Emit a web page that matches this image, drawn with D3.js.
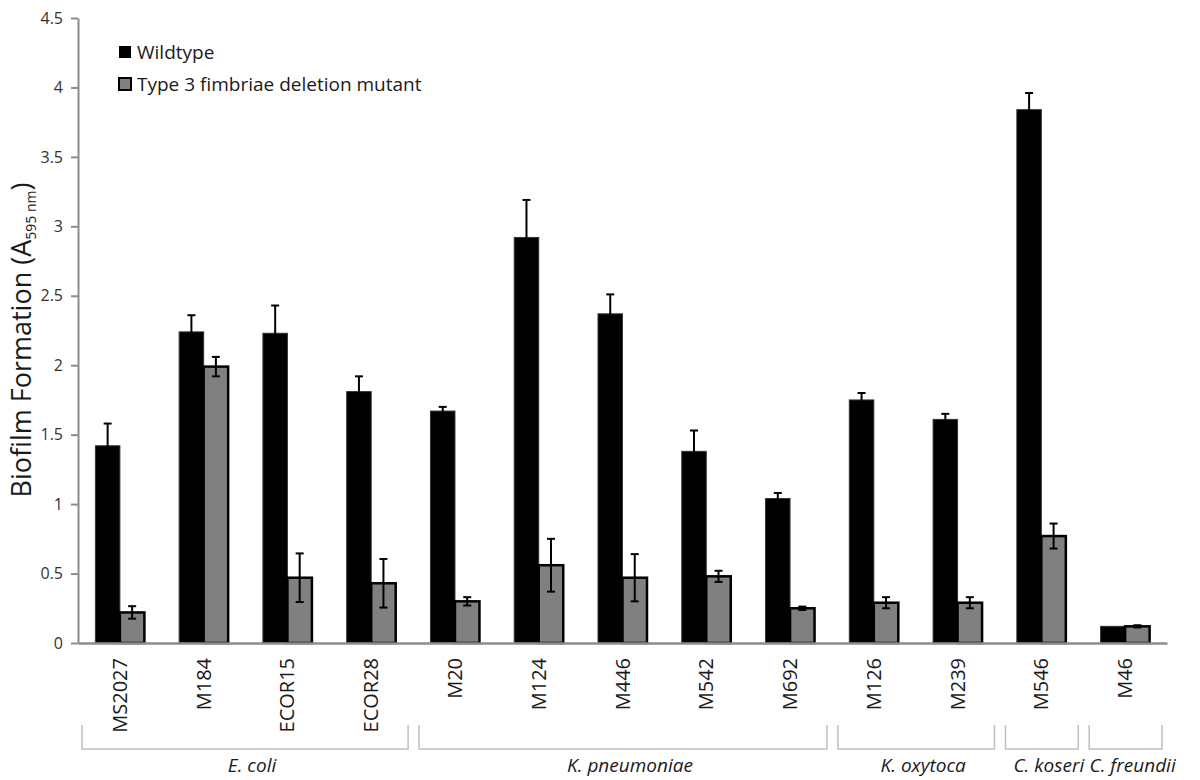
<!DOCTYPE html>
<html>
<head>
<meta charset="utf-8">
<script src="https://cdn.jsdelivr.net/npm/d3@7"></script>
<style>
  body { margin: 0; background: #fff; }
  svg { font-family: "Open Sans", sans-serif; }
</style>
</head>
<body>
<svg id="chart"></svg>
<script>
// strains on the x axis
var strains = ["MS2027", "M184", "ECOR15", "ECOR28", "M20", "M124", "M446", "M542", "M692", "M126", "M239", "M546", "M46"];

// biofilm values (A595 nm)
var wildtype    = [1.42, 2.24, 2.23, 1.81, 1.67, 2.92, 2.37, 1.38, 1.04, 1.75, 1.61, 3.84, 0.12];
var wildtypeErr = [0.16, 0.12, 0.20, 0.11, 0.03, 0.27, 0.14, 0.15, 0.04, 0.05, 0.04, 0.12, 0.0];
var mutant      = [0.22, 1.99, 0.47, 0.43, 0.30, 0.56, 0.47, 0.48, 0.25, 0.29, 0.29, 0.77, 0.12];
var mutantErr   = [0.045, 0.07, 0.175, 0.175, 0.03, 0.19, 0.17, 0.04, 0.012, 0.04, 0.04, 0.09, 0.008];

var seriesNames = ["Wildtype", "Type 3 fimbriae deletion mutant"];

// species groups under the strain labels
var groupNames = ["E. coli", "K. pneumoniae", "K. oxytoca", "C. koseri", "C. freundii"];
var groupFirst = ["MS2027", "M20", "M126", "M546", "M46"];
var groupLast  = ["ECOR28", "M692", "M239", "M546", "M46"];

var yTicks = [0, 0.5, 1, 1.5, 2, 2.5, 3, 3.5, 4, 4.5];

var screen = {width: 1200, height: 780};
var plot = {left: 78, right: 1167, top: 18, bottom: 643};

var svg = d3.select("#chart")
    .attr("width", screen.width)
    .attr("height", screen.height);

var xScale = d3.scaleBand()
    .domain(strains)
    .range([plot.left, plot.right])
    .padding(0);

var xSeries = d3.scaleBand()
    .domain(seriesNames)
    .range([xScale.bandwidth() / 2 - 24.5, xScale.bandwidth() / 2 + 24.5])
    .padding(0);

var yScale = d3.scaleLinear()
    .domain([0, 4.5])
    .range([plot.bottom, plot.top]);

// y axis
var yAxis = d3.axisLeft(yScale)
    .tickValues(yTicks)
    .tickFormat(function(d){ return String(d); })
    .tickSize(7)
    .tickSizeOuter(0);

var gy = svg.append("g")
    .attr("transform", "translate(" + plot.left + ",0)")
    .call(yAxis);
gy.select(".domain").attr("stroke", "#8c8c8c").attr("stroke-width", 2);
gy.selectAll(".tick line").attr("stroke", "#8c8c8c").attr("stroke-width", 2);
gy.selectAll(".tick text")
    .attr("x", -15)
    .attr("fill", "#333")
    .style("font-size", "16px")
    .style("font-family", "'Open Sans', sans-serif");

// y title
var yTitle = svg.append("text")
    .attr("transform", "translate(31,340) rotate(-90)")
    .attr("text-anchor", "middle")
    .attr("fill", "#1a1a1a")
    .style("font-size", "27px");
yTitle.append("tspan").text("Biofilm Formation (A");
yTitle.append("tspan").attr("dy", 5).style("font-size", "14px").text("595 nm");
yTitle.append("tspan").attr("dy", -5).text(")");

// bars
var rows = strains.map(function(s, i)
{
    return [
        {strain: s, series: seriesNames[0], value: wildtype[i], err: wildtypeErr[i]},
        {strain: s, series: seriesNames[1], value: mutant[i], err: mutantErr[i]}
    ];
});

var groups = svg.append("g").selectAll("g")
    .data(rows)
    .enter()
    .append("g")
    .attr("transform", function(d){ return "translate(" + xScale(d[0].strain) + ",0)"; });

groups.selectAll("rect")
    .data(function(d){ return d; })
    .enter()
    .append("rect")
    .attr("x", function(d){ return xSeries(d.series); })
    .attr("y", function(d){ return yScale(d.value); })
    .attr("width", xSeries.bandwidth())
    .attr("height", function(d){ return yScale(0) - yScale(d.value); })
    .attr("fill", function(d){ return d.series == seriesNames[0] ? "#000" : "#808080"; })
    .attr("stroke", function(d){ return d.series == seriesNames[0] ? "#333" : "#000"; })
    .attr("stroke-width", function(d){ return d.series == seriesNames[0] ? 1 : 2.5; });

// error bars
var errs = groups.selectAll("g.err")
    .data(function(d){ return d.filter(function(r){ return r.err > 0; }); })
    .enter()
    .append("g")
    .attr("class", "err")
    .attr("stroke", "#000")
    .attr("stroke-width", 2);

var errX = function(d){ return xSeries(d.series) + xSeries.bandwidth() / 2; };

errs.append("line")
    .attr("x1", errX).attr("x2", errX)
    .attr("y1", function(d){ return yScale(d.value - d.err); })
    .attr("y2", function(d){ return yScale(d.value + d.err); });
errs.append("line")
    .attr("x1", function(d){ return errX(d) - 4; })
    .attr("x2", function(d){ return errX(d) + 4; })
    .attr("y1", function(d){ return yScale(d.value + d.err); })
    .attr("y2", function(d){ return yScale(d.value + d.err); });
errs.append("line")
    .attr("x1", function(d){ return errX(d) - 4; })
    .attr("x2", function(d){ return errX(d) + 4; })
    .attr("y1", function(d){ return yScale(d.value - d.err); })
    .attr("y2", function(d){ return yScale(d.value - d.err); });

// x axis
var xAxis = d3.axisBottom(xScale).tickSize(0).tickSizeOuter(0);
var gx = svg.append("g")
    .attr("transform", "translate(0," + plot.bottom + ")")
    .call(xAxis);
gx.select(".domain").attr("stroke", "#8c8c8c").attr("stroke-width", 2.5);
gx.selectAll(".tick text")
    .attr("transform", "rotate(-90)")
    .attr("text-anchor", "end")
    .attr("x", -15)
    .attr("y", 0)
    .attr("dy", "0.35em")
    .attr("fill", "#1a1a1a")
    .style("font-size", "20px")
    .style("font-family", "'Open Sans', sans-serif");

// species brackets
var brackets = svg.append("g").selectAll("g")
    .data(groupNames)
    .enter()
    .append("g");

var bLeft = function(d, i){ return xScale(groupFirst[i]) + (i == 0 ? 4 : 6); };
var bRight = function(d, i){ return xScale(groupLast[i]) + xScale.bandwidth() - 5; };

brackets.append("path")
    .attr("fill", "none")
    .attr("stroke", "#c0c0c0")
    .attr("stroke-width", 1.5)
    .attr("d", function(d, i)
    {
        var l = bLeft(d, i), r = bRight(d, i);
        return "M" + l + ",725V749H" + r + "V725";
    });

brackets.append("text")
    .attr("x", function(d, i){ return (bLeft(d, i) + bRight(d, i)) / 2 + 7; })
    .attr("y", 772)
    .attr("text-anchor", "middle")
    .attr("fill", "#1a1a1a")
    .style("font-size", "19px")
    .style("font-style", "italic")
    .text(function(d){ return d; });

// legend
var legend = svg.append("g").selectAll("g")
    .data(seriesNames)
    .enter()
    .append("g")
    .attr("transform", function(d, i){ return "translate(119," + (52 + i * 32) + ")"; });

legend.append("rect")
    .attr("x", 0).attr("y", -6)
    .attr("width", 12).attr("height", 12)
    .attr("fill", function(d, i){ return i == 0 ? "#000" : "#808080"; })
    .attr("stroke", "#000")
    .attr("stroke-width", function(d, i){ return i == 0 ? 0 : 2; });

legend.append("text")
    .attr("x", 18)
    .attr("y", 0)
    .attr("dy", "0.35em")
    .attr("fill", "#1a1a1a")
    .style("font-size", "19px")
    .text(function(d){ return d; });
</script>
</body>
</html>
